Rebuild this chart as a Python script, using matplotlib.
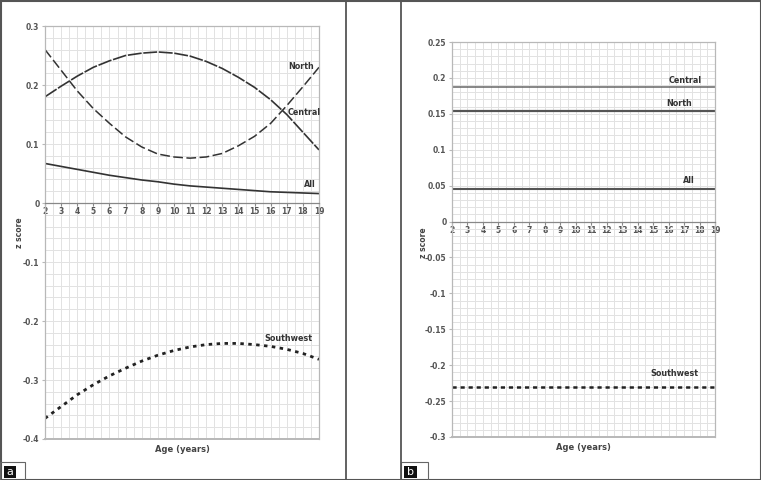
"""
Regional z score curves by age, panel a (trend) and panel b (constant)
"""

import numpy as np
import matplotlib
matplotlib.use("Agg")
import matplotlib.pyplot as plt
from matplotlib.lines import Line2D
from matplotlib.patches import Rectangle

plt.rcParams['font.family'] = ['DejaVu Sans']
plt.rcParams['lines.scale_dashes'] = False

ages = list(range(2, 20))

# panel a
north_a = [0.26, 0.225, 0.19, 0.16, 0.135, 0.112, 0.095, 0.083, 0.078,
           0.076, 0.078, 0.084, 0.097, 0.113, 0.135, 0.165, 0.197, 0.23]
central_a = [0.18, 0.198, 0.215, 0.23, 0.241, 0.25, 0.254, 0.256, 0.254,
             0.249, 0.24, 0.228, 0.213, 0.196, 0.175, 0.15, 0.12, 0.09]
all_a = [0.067, 0.062, 0.057, 0.052, 0.047, 0.043, 0.039, 0.036, 0.032,
         0.029, 0.027, 0.025, 0.023, 0.021, 0.019, 0.018, 0.017, 0.016]
southwest_a = [-0.365, -0.345, -0.325, -0.308, -0.293, -0.28, -0.268, -0.258, -0.25,
               -0.244, -0.24, -0.238, -0.238, -0.24, -0.243, -0.248, -0.255, -0.265]

# panel b
central_b = 0.188
north_b = 0.154
all_b = 0.045
southwest_b = -0.231

yticks_a = [0.3, 0.2, 0.1, 0, -0.1, -0.2, -0.3, -0.4]
ylabels_a = ["0.3", "0.2", "0.1", "0", "-0.1", "-0.2", "-0.3", "-0.4"]
yticks_b = [0.25, 0.2, 0.15, 0.1, 0.05, 0, -0.05, -0.1, -0.15, -0.2, -0.25, -0.3]
ylabels_b = ["0.25", "0.2", "0.15", "0.1", "0.05", "0", "-0.05", "-0.1",
             "-0.15", "-0.2", "-0.25", "-0.3"]

W, H = 761, 480
fig = plt.figure(figsize=(W / 100, H / 100), dpi=100)

TICK = dict(fontsize=5.5, color="#555555", fontweight="bold")
LAB = dict(fontsize=5.8, color="#333333", fontweight="bold", ha="center", va="center")


def px(x0, y0, x1, y1):
    """pixel box (top-left origin) -> figure rect"""
    return [x0 / W, 1 - y1 / H, (x1 - x0) / W, (y1 - y0) / H]


def style_axes(ax, ymin, ymax, yticks, ylabels, minor_step):
    # spine position first, it resets the ticks
    ax.spines["bottom"].set_position(("data", 0))
    ax.spines["bottom"].set_color("#888888")
    ax.spines["bottom"].set_linewidth(0.9)
    for s in ["left", "right", "top"]:
        ax.spines[s].set_color("#b8b8b8")
        ax.spines[s].set_linewidth(0.9)
    ax.set_xlim(2, 19)
    ax.set_ylim(ymin, ymax)
    ax.set_xticks(ages)
    ax.set_xticklabels([str(a) for a in ages], **TICK)
    ax.set_xticks(np.arange(2, 19.01, 0.5), minor=True)
    ax.set_yticks(yticks)
    ax.set_yticklabels(ylabels, **TICK)
    ax.set_yticks(np.arange(ymin, ymax + 1e-9, minor_step), minor=True)
    ax.grid(True, which="both", color="#e2e2e2", lw=0.7)
    ax.set_axisbelow(True)
    ax.axhline(ymin, color="#b8b8b8", lw=1.4, clip_on=False)
    ax.tick_params(which="both", length=0, pad=2)
    ax.tick_params(axis="x", which="major", length=2, color="#888888", pad=1)
    ax.tick_params(axis="y", which="major", length=2, color="#b8b8b8")


# panel a
ax1 = fig.add_axes(px(45, 26, 319, 439))
style_axes(ax1, -0.4, 0.3, yticks_a, ylabels_a, 0.02)
ax1.plot(ages, north_a, color="#333333", lw=1.1, dashes=(7, 2.5))
ax1.plot(ages, central_a, color="#333333", lw=1.2, dashes=(10, 1.2))
ax1.plot(ages, all_a, color="#333333", lw=1.2)
ax1.plot(ages, southwest_a, color="#222222", lw=2.0, dashes=(2.5, 3.2))
ax1.text(17.9, 0.232, "North", **LAB)
ax1.text(18.1, 0.153, "Central", **LAB)
ax1.text(18.4, 0.031, "All", **LAB)
ax1.text(17.1, -0.23, "Southwest", **LAB)

# panel b
ax2 = fig.add_axes(px(452, 42, 715, 437))
style_axes(ax2, -0.3, 0.25, yticks_b, ylabels_b, 0.01)
ax2.plot(ages, [central_b] * len(ages), color="#666666", lw=1.1)
ax2.plot(ages, [north_b] * len(ages), color="#555555", lw=1.6)
ax2.plot(ages, [all_b] * len(ages), color="#555555", lw=1.5)
ax2.plot(ages, [southwest_b] * len(ages), color="#222222", lw=1.8, dashes=(3, 2.8))
ax2.text(17.1, 0.197, "Central", **LAB)
ax2.text(16.7, 0.165, "North", **LAB)
ax2.text(17.3, 0.057, "All", **LAB)
ax2.text(16.4, -0.212, "Southwest", **LAB)

for xc, yc in ((182, 450), (583, 447)):
    fig.text(xc / W, 1 - yc / H, "Age (years)", ha="center", va="center",
             fontsize=6, color="#444444", fontweight="bold")
fig.text(20 / W, 1 - 233 / H, "z score", rotation=90, ha="center", va="center",
         fontsize=5.5, color="#444444", fontweight="bold")
fig.text(423 / W, 1 - 243 / H, "z score", rotation=90, ha="center", va="center",
         fontsize=5.5, color="#444444", fontweight="bold")

# panel frames
edge = "#555555"
fig.add_artist(Rectangle((0.5 / W, 0.5 / H), (W - 1) / W, (H - 1) / H,
                         transform=fig.transFigure, fill=False, ec=edge, lw=1.5))
for xv in (345.5, 400.5):
    fig.add_artist(Line2D([xv / W, xv / W], [0, 1], transform=fig.transFigure,
                          color=edge, lw=1.3))

for (bx0, bx1, lx0, lx1, letter) in [(0, 25, 4, 16, "a"), (401, 428, 404, 417, "b")]:
    r = px(bx0, 462, bx1, 480)
    fig.add_artist(Rectangle((r[0], r[1]), r[2], r[3], transform=fig.transFigure,
                             fill=False, ec="#666666", lw=0.8))
    r = px(lx0, 466, lx1, 478)
    fig.add_artist(Rectangle((r[0], r[1]), r[2], r[3], transform=fig.transFigure,
                             fc="#111111", ec="none"))
    fig.text(r[0] + r[2] / 2, r[1] + r[3] / 2, letter, color="white", fontsize=8,
             ha="center", va="center")

fig.savefig("out.png", dpi=100)
